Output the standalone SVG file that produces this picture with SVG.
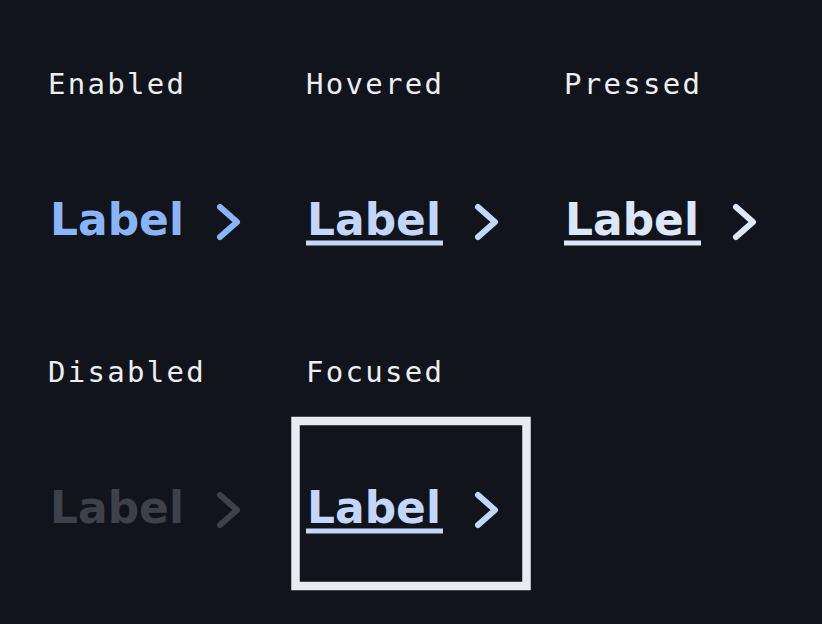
<svg xmlns="http://www.w3.org/2000/svg" width="822" height="624" viewBox="0 0 822 624">
<style>
.cap{font-family:"DejaVu Sans Mono","Liberation Mono",monospace;font-size:29px;fill:#eceef2;letter-spacing:2.3px}
.lbl{font-family:"DejaVu Sans","Liberation Sans",sans-serif;font-weight:bold;font-size:45px}
.chev{fill:none;stroke-width:6;stroke-linecap:round;stroke-linejoin:round}
.ul{stroke-width:5}
</style>
<rect width="822" height="624" fill="#11141b"/>
<g id="enabled">
<text class="cap" x="48" y="94">Enabled</text>
<text class="lbl" x="50" y="235" fill="#8ab4f8" textLength="134" lengthAdjust="spacingAndGlyphs">Label</text>
<polyline class="chev" stroke="#8ab4f8" points="220,207 237,222 220,237"/>
</g>
<g id="hovered">
<text class="cap" x="306" y="94">Hovered</text>
<text class="lbl" x="307" y="235" fill="#c2d7fb" textLength="134" lengthAdjust="spacingAndGlyphs">Label</text>
<line class="ul" x1="306" y1="243" x2="443" y2="243" stroke="#c2d7fb"/>
<polyline class="chev" stroke="#c2d7fb" points="478,207 495,222 478,237"/>
</g>
<g id="pressed">
<text class="cap" x="564" y="94">Pressed</text>
<text class="lbl" x="565" y="235" fill="#dde7fb" textLength="134" lengthAdjust="spacingAndGlyphs">Label</text>
<line class="ul" x1="564" y1="243" x2="701" y2="243" stroke="#dde7fb"/>
<polyline class="chev" stroke="#dde7fb" points="736,207 753,222 736,237"/>
</g>
<g id="disabled">
<text class="cap" x="48" y="382">Disabled</text>
<text class="lbl" x="50" y="523" fill="#3d4149" textLength="134" lengthAdjust="spacingAndGlyphs">Label</text>
<polyline class="chev" stroke="#3d4149" points="220,495 237,510 220,525"/>
</g>
<g id="focused">
<text class="cap" x="306" y="382">Focused</text>
<rect x="295.5" y="421" width="231" height="165" fill="none" stroke="#e8ebf0" stroke-width="8.5"/>
<text class="lbl" x="307" y="523" fill="#c2d7fb" textLength="134" lengthAdjust="spacingAndGlyphs">Label</text>
<line class="ul" x1="306" y1="531" x2="443" y2="531" stroke="#c2d7fb"/>
<polyline class="chev" stroke="#c2d7fb" points="478,495 495,510 478,525"/>
</g>
<g id="connectors"/>
</svg>
